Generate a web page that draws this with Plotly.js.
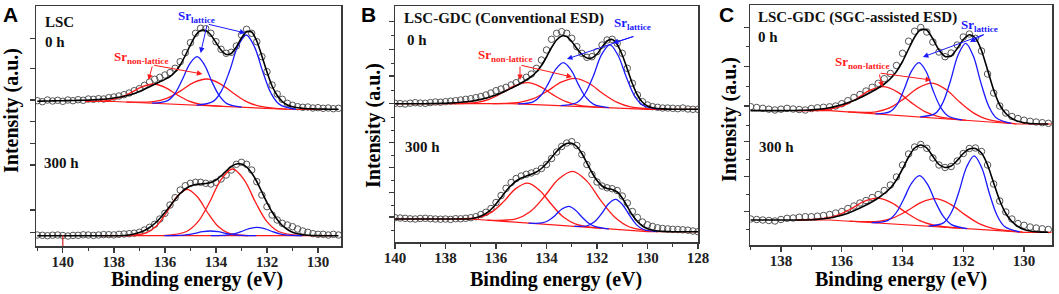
<!DOCTYPE html>
<html><head><meta charset="utf-8">
<script src="https://cdn.plot.ly/plotly-3.0.1.min.js"></script>
<style>html,body{margin:0;padding:0;background:#fff;}#chart{width:1059px;height:294px;}</style>
</head><body><div id="chart"></div>
<script>
// ---------- Binding-energy grids (eV) ----------
const gridA = [141.0,140.8,140.6,140.4,140.2,140.0,139.8,139.6,139.4,139.2,139.0,138.8,138.6,138.4,138.2,138.0,137.8,137.6,137.4,137.2,137.0,136.8,136.6,136.4,136.2,136.0,135.8,135.6,135.4,135.2,135.0,134.8,134.6,134.4,134.2,134.0,133.8,133.6,133.4,133.2,133.0,132.8,132.6,132.4,132.2,132.0,131.8,131.6,131.4,131.2,131.0,130.8,130.6,130.4,130.2,130.0,129.8,129.6,129.4,129.2];
const gridB = [140.0,139.8,139.6,139.4,139.2,139.0,138.8,138.6,138.4,138.2,138.0,137.8,137.6,137.4,137.2,137.0,136.8,136.6,136.4,136.2,136.0,135.8,135.6,135.4,135.2,135.0,134.8,134.6,134.4,134.2,134.0,133.8,133.6,133.4,133.2,133.0,132.8,132.6,132.4,132.2,132.0,131.8,131.6,131.4,131.2,131.0,130.8,130.6,130.4,130.2,130.0,129.8,129.6,129.4,129.2,129.0,128.8,128.6,128.4,128.2,128.0];
const gridC = [139.0,138.8,138.6,138.4,138.2,138.0,137.8,137.6,137.4,137.2,137.0,136.8,136.6,136.4,136.2,136.0,135.8,135.6,135.4,135.2,135.0,134.8,134.6,134.4,134.2,134.0,133.8,133.6,133.4,133.2,133.0,132.8,132.6,132.4,132.2,132.0,131.8,131.6,131.4,131.2,131.0,130.8,130.6,130.4,130.2,130.0,129.8,129.6,129.4,129.2];

// ---------- Panel A : LSC ----------
const A0_data = [145.3,144.3,146,145,145.7,144.7,146,145.3,146.3,145.7,147,146.7,147.3,147,148.3,149,150,151.3,153,155.3,157.3,160.7,164,166.7,168.7,171,173.3,177.7,184.3,193.3,203.3,212.7,217.7,217.3,212.7,204.3,196.7,192.7,193.7,200,211,216.7,212.7,204.3,189.3,174.3,161,152,146.7,142.7,140.7,139.3,138.7,139,138,138.3,137.7,138,137.3,137.7];
const A0_fit = [144.8,144.9,145.0,145.1,145.2,145.3,145.4,145.5,145.6,145.7,145.9,146.1,146.4,146.8,147.3,148.0,148.8,149.8,151.0,152.6,154.5,156.8,159.3,161.8,164.2,166.6,169.5,174.0,181.0,190.5,201.0,210.5,215.5,215.5,211.0,203.5,196.0,191.5,192.5,199.0,208.0,214.5,214.0,205.0,190.0,174.0,160.0,150.5,144.5,141.0,139.2,138.2,137.6,137.3,137.1,137.0,136.9,136.8,136.8,136.7];
const A0_blue1_E = [132.99,133.57,133.86,134.16,134.45,134.74,135.03,135.33,135.62,135.91,136.5];
const A0_blue1_I = [138.9,142.4,150.0,164.4,181.2,189.3,181.9,165.7,152.0,145.1,142.9];
const A0_blue2_E = [130.86,131.51,131.84,132.16,132.49,132.81,133.14,133.46,133.79,134.11,134.76];
const A0_blue2_I = [136.6,141.6,152.7,174.0,199.1,211.0,199.8,175.5,154.9,144.6,140.9];
const A0_red1_E = [133.73,134.63,135.08,135.53,135.98,136.43,136.88,137.33,137.78,138.23,139.13];
const A0_red1_I = [139.7,141.9,145.2,151.3,158.4,162.0,159.4,153.4,148.3,145.7,144.5];
const A0_red2_E = [131.2,132.25,132.78,133.3,133.83,134.35,134.88,135.4,135.93,136.45,137.5];
const A0_red2_I = [136.8,139.6,144.1,152.5,162.2,167.0,163.4,154.9,147.7,144.4,144.0];
const A0_base_E = [139.0,138.0,131.0,129.2];
const A0_base_I = [144.5,144.5,136.5,136.5];

const A300_data = [11,10.7,10.3,10.8,11,10.5,10,10.6,10.7,11.2,11,10.6,11,11.4,11.3,11.1,11.7,12,12.3,12.8,13.7,16,18.7,21.7,27,32.7,41,48.3,56,60.3,62.7,63.7,63.7,62.7,62,63.7,67,71,76,81.7,83.7,81.7,76,64.3,51,39.3,31,26,22.7,21,19.3,17,15,13.7,12.3,11.7,11.7,11,11.7,11];
const A300_fit = [10.3,10.3,10.3,10.3,10.3,10.3,10.3,10.3,10.3,10.3,10.3,10.3,10.3,10.3,10.3,10.3,10.3,10.5,11.0,12.0,13.5,15.5,18.5,22.5,27.5,33.5,40.0,46.5,52.5,57.0,60.0,61.5,62.0,62.5,63.5,66.0,70.0,75.0,79.5,82.0,82.0,79.0,73.0,64.5,54.0,43.5,34.0,26.5,20.5,16.5,13.8,12.2,11.2,10.7,10.5,10.4,10.3,10.3,10.3,10.3];
const A300_red1_E = [132.73,133.53,133.93,134.33,134.73,135.13,135.53,135.93,136.33,136.73,137.53];
const A300_red1_I = [10.4,13.2,20.0,33.5,49.3,56.7,49.3,33.5,20.0,13.2,10.4];
const A300_red2_E = [130.65,131.55,132.0,132.45,132.9,133.35,133.8,134.25,134.7,135.15,136.05];
const A300_red2_I = [10.4,14.5,24.3,43.7,66.4,77.0,66.4,43.7,24.3,14.5,10.4];
const A300_blue1_E = [132.42,133.02,133.32,133.62,133.92,134.22,134.52,134.82,135.12,135.42,136.02];
const A300_blue1_I = [10.3,10.6,11.3,12.7,14.3,15.0,14.3,12.7,11.3,10.6,10.3];
const A300_blue2_E = [130.6,131.2,131.5,131.8,132.1,132.4,132.7,133.0,133.3,133.6,134.2];
const A300_blue2_I = [10.3,10.8,12.1,14.5,17.4,18.7,17.4,14.5,12.1,10.8,10.3];
const A300_base_E = [138.5,129.5];
const A300_base_I = [10.3,10.3];

// ---------- Panel B : LSC-GDC (Conventional ESD) ----------
const B0_data = [138.7,138.4,138,138.8,139.3,138.9,138.7,139.4,140,139.8,140.3,140.8,141.3,142,142.7,143.3,144.3,145.5,147,149,151.3,153,154.7,157,159.3,162,164.7,168,173.7,182,192,202.7,208.7,210.3,208.7,203.7,195.3,188.7,184.7,185.3,190.3,197,202,202.7,198.7,188.7,173.7,158.7,147,140.3,137,135.3,134.7,134,134,133.7,133.3,134,133,132.7,132.7];
const B0_fit = [138.3,138.3,138.3,138.3,138.3,138.3,138.3,138.4,138.5,138.6,138.8,139,139.3,139.7,140.2,140.8,141.6,142.6,143.8,145.3,147,149,151.2,153.6,156.2,159,162,165.5,170,176.5,185,194.5,202,206,205.5,200.5,193.5,187.5,184,184,188,195,201,202.5,197.5,187,173,158.5,147,139.8,136,134.3,133.5,133.1,132.9,132.8,132.7,132.7,132.7,132.7,132.7];
const B0_red1_E = [131.75,132.75,133.25,133.75,134.25,134.75,135.25,135.75,136.25,136.75,137.75];
const B0_red1_I = [134.6,136.9,140.6,147.4,155.4,159.3,156.4,149.2,142.9,139.7,138.3];
const B0_red2_E = [129.57,130.67,131.22,131.77,132.32,132.87,133.42,133.97,134.52,135.07,136.17];
const B0_red2_I = [132.8,135.1,139.9,148.5,158.7,163.7,159.8,150.8,143.3,139.7,138.4];
const B0_blue1_E = [131.53,132.13,132.43,132.73,133.03,133.33,133.63,133.93,134.23,134.53,135.13];
const B0_blue1_I = [134.4,137.6,144.3,157.1,172.1,179.4,172.8,158.4,146.2,140.1,138.1];
const B0_blue2_E = [129.54,130.19,130.52,130.84,131.17,131.49,131.82,132.14,132.47,132.79,133.44];
const B0_blue2_I = [132.8,136.8,146.4,165.0,186.7,197.1,187.4,166.3,148.5,139.5,136.4];
const B0_base_E = [140,135.4,130,128];
const B0_base_I = [138.3,138.3,132.7,132.7];

const B300_data = [24.3,24,23.7,23.2,23,23.5,23.7,23.3,23,22.8,23,22.6,23.3,23.2,23.7,24.3,25.3,27.5,29.7,33.5,39.5,46.5,53.7,59.5,63.5,66,67.7,69,70.7,73.5,77.5,83.5,90,95.5,99,100.3,96.5,87.5,77.5,67.5,60,56,54.2,53.3,51.5,46,39,30.5,24.5,20,17.2,15.5,14.2,13.5,13.1,12.7,12.5,12.2,11.8,11,10.3];
const B300_fit = [23,23,23,23,23,23,23,23,23,23,23,23,23,23,23,23.3,24.3,26,28.5,32.5,38,44.5,51,56.5,61,64,66,67.8,70,73.5,78.5,84.5,90.5,95.5,98.5,98.7,95.5,88.5,79,69.5,61.5,56,53.5,52.5,50,44,35.5,27,20.5,16,13.3,11.8,11,10.6,10.4,10.3,10.3,10.3,10.3,10.3,10.3];
const B300_red1_E = [131.89,132.84,133.32,133.79,134.27,134.74,135.22,135.69,136.17,136.64,137.59];
const B300_red1_I = [13.8,17.95,24.7,37.2,51.6,58.9,53.4,40.6,29.9,24.8,23.1];
const B300_red2_E = [129.59,130.71,131.27,131.84,132.4,132.96,133.52,134.09,134.65,135.21,136.34];
const B300_red2_I = [10.4,15.0,24.2,41.1,60.9,70.7,63.0,45.2,30.3,23.2,21.9];
const B300_blue1_E = [131.53,132.06,132.33,132.59,132.86,133.12,133.39,133.65,133.92,134.18,134.71];
const B300_blue1_I = [13.1,15.3,18.7,24.8,32.1,35.7,33.0,26.8,21.5,19.1,18.9];
const B300_blue2_E = [129.61,130.16,130.44,130.71,130.99,131.26,131.54,131.81,132.09,132.36,132.91];
const B300_blue2_I = [10.4,12.5,17.4,26.6,37.3,42.6,38.3,28.6,20.4,16.5,15.6];
const B300_base_E = [140,137,130,128];
const B300_base_I = [23,23,10.3,10.3];

// ---------- Panel C : LSC-GDC (SGC-assisted ESD) ----------
const C0_data = [138.3,137.5,136.7,135.8,135,135.8,136.7,136,135.5,135,136.5,137.2,137.7,138.2,139,141.3,144.3,147.5,150.5,154,157.7,161.7,166.3,171.5,179.5,191.7,203.8,213.8,217.5,213,203,193,188.3,192,200,208,211,206.7,194,171,152,139,132,128.5,126.5,124.8,123.7,123,122.3,121.7];
const C0_fit = [134.4,134.4,134.4,134.4,134.4,134.4,134.4,134.5,134.6,134.8,135.1,135.6,136.3,137.3,138.6,140.2,142.2,144.6,147.3,150.3,153.5,157,161,166.3,173.5,183.5,196,208,215.5,215,206,195,188.5,189,196.5,205.5,210.3,207,194.5,175,155,140,131.5,126.5,123.7,122.2,121.5,121.2,121,121];
const C0_red1_E = [131.91,132.81,133.26,133.71,134.16,134.61,135.06,135.51,135.96,136.41,137.31];
const C0_red1_I = [124.7,128.3,133.4,142.4,152.9,158.3,154.8,146.3,139.2,136.0,134.4];
const C0_red2_E = [130.25,131.17,131.63,132.1,132.56,133.02,133.48,133.95,134.41,134.87,135.8];
const C0_red2_I = [121.2,125.3,131.4,142.4,155.3,161.8,157.2,146.4,137.3,133.2,133.1];
const C0_blue1_E = [132.04,132.51,132.75,132.99,133.22,133.46,133.7,133.94,134.17,134.41,134.89];
const C0_blue1_I = [125.05,129.3,137.9,154.1,173.2,182.3,174.2,156.2,140.9,133.4,131.2];
const C0_blue2_E = [130.42,130.92,131.17,131.42,131.67,131.92,132.17,132.42,132.67,132.92,133.42];
const C0_blue2_I = [121.6,127.3,139.3,162.1,188.9,201.7,190.0,164.3,142.5,131.6,128.1];
const C0_base_E = [137.5,136.4,130.2,129.1];
const C0_base_I = [134.3,134.3,121,121];

const C300_data = [26,25.5,25,24.5,24,25.5,26.7,27,27.8,28.3,28.3,28.8,29.5,30.5,32,33.5,36.5,39,42,44.5,47.5,50.5,54.5,60,68,80,91,98,100.5,96.7,87,80,77.5,78.5,84,91.5,96.5,97,93.5,80,61,44,33,26,21.5,19.7,18,17,16.2,15.5];
const C300_fit = [25,25,25,25,25,25,25,25,25,25,25.2,25.6,26.2,27,28.2,29.8,31.8,34.3,37,40,43.3,47,51.5,57,65,76,88,97,100,97,88.5,80.5,77.5,79,84.5,91.5,96,96.5,92,80,62,44.5,31.5,23.5,18.5,15.5,14,13.2,12.9,12.7];
const C300_red1_E = [132.1,133.0,133.45,133.9,134.35,134.8,135.25,135.7,136.15,136.6,137.5];
const C300_red1_I = [16.8,20.0,24.6,32.7,42.1,46.9,43.8,36.1,29.75,26.6,25.05];
const C300_red2_E = [130.05,131.0,131.48,131.95,132.43,132.9,133.38,133.85,134.33,134.8,135.75];
const C300_red2_I = [12.9,16.4,21.4,30.4,40.9,46.3,42.7,34.1,26.9,23.7,23.8];
const C300_blue1_E = [131.87,132.39,132.65,132.92,133.18,133.44,133.7,133.97,134.23,134.49,135.02];
const C300_blue1_I = [16.4,20.4,28.3,43.3,60.9,69.3,61.9,45.3,31.3,24.4,22.4];
const C300_blue2_E = [130.14,130.64,130.89,131.14,131.39,131.64,131.89,132.14,132.39,132.64,133.14];
const C300_blue2_I = [13.1,18.5,29.8,51.5,77.0,89.2,78.0,53.5,32.7,22.4,18.9];
const C300_base_E = [137.5,136.4,130,129.1];
const C300_base_I = [25,25,12.7,12.7];

// ---------- Tick values / labels ----------
const xTicksA = [140,138,136,134,132,130];
const xMinorA = [141,139,137,135,133,131];
const xTicksB = [140,138,136,134,132,130,128];
const xMinorB = [139,137,135,133,131,129];
const xTicksC = [138,136,134,132,130];
const xMinorC = [139,137,135,133,131];
const yTicksA = [13.7,36,81,102.7,124.3,146,177.7,207.7];
const yTicksB = [25,49.5,74.5,99.7,138.7,166,192.7,220.3];
const yMinorB = [12,37,62,87,112,125,152,179,207];
const yTicksC = [33.3,68.5,103.3,139,178.3,217.3];
const yMinorC = [16,51,86,120,159,198.3];

const panelTitles = ['LSC','LSC-GDC (Conventional ESD)','LSC-GDC (SGC-assisted ESD)'];
const timeLabels = ['0 h','300 h'];

// ---------- Styles ----------
const SERIF = 'Liberation Serif, Times New Roman, serif';
const RED = '#ff1a1a', BLUE = '#1a1aff', AX = '#3a3a3a';

const traces = [];
function addSpectrum(grid, data, fit, comps, base, xa, ya){
  traces.push({x:grid, y:data, xaxis:xa, yaxis:ya, type:'scatter', mode:'markers',
    marker:{symbol:'circle-open', size:6.5, color:'#555', line:{width:1}}, hoverinfo:'skip'});
  traces.push({x:base[0], y:base[1], xaxis:xa, yaxis:ya, type:'scatter', mode:'lines',
    line:{color:RED, width:1.2}, hoverinfo:'skip'});
  comps.forEach(c => traces.push({x:c[0], y:c[1], xaxis:xa, yaxis:ya, type:'scatter', mode:'lines',
    line:{color:c[2], width:1.3, shape:'spline', smoothing:1}, hoverinfo:'skip'}));
  traces.push({x:grid, y:fit, xaxis:xa, yaxis:ya, type:'scatter', mode:'lines',
    line:{color:'#000', width:1.6, shape:'spline', smoothing:0.6}, hoverinfo:'skip'});
}
addSpectrum(gridA, A0_data, A0_fit, [[A0_red1_E,A0_red1_I,RED],[A0_red2_E,A0_red2_I,RED],[A0_blue1_E,A0_blue1_I,BLUE],[A0_blue2_E,A0_blue2_I,BLUE]], [A0_base_E,A0_base_I], 'x','y');
addSpectrum(gridA, A300_data, A300_fit, [[A300_red1_E,A300_red1_I,RED],[A300_red2_E,A300_red2_I,RED],[A300_blue1_E,A300_blue1_I,BLUE],[A300_blue2_E,A300_blue2_I,BLUE]], [A300_base_E,A300_base_I], 'x','y');
addSpectrum(gridB, B0_data, B0_fit, [[B0_red1_E,B0_red1_I,RED],[B0_red2_E,B0_red2_I,RED],[B0_blue1_E,B0_blue1_I,BLUE],[B0_blue2_E,B0_blue2_I,BLUE]], [B0_base_E,B0_base_I], 'x2','y2');
addSpectrum(gridB, B300_data, B300_fit, [[B300_red1_E,B300_red1_I,RED],[B300_red2_E,B300_red2_I,RED],[B300_blue1_E,B300_blue1_I,BLUE],[B300_blue2_E,B300_blue2_I,BLUE]], [B300_base_E,B300_base_I], 'x2','y2');
addSpectrum(gridC, C0_data, C0_fit, [[C0_red1_E,C0_red1_I,RED],[C0_red2_E,C0_red2_I,RED],[C0_blue1_E,C0_blue1_I,BLUE],[C0_blue2_E,C0_blue2_I,BLUE]], [C0_base_E,C0_base_I], 'x3','y3');
addSpectrum(gridC, C300_data, C300_fit, [[C300_red1_E,C300_red1_I,RED],[C300_red2_E,C300_red2_I,RED],[C300_blue1_E,C300_blue1_I,BLUE],[C300_blue2_E,C300_blue2_I,BLUE]], [C300_base_E,C300_base_I], 'x3','y3');

function xAxis(domain, range, ticks, minor, anchor){
  return {domain, range, anchor, tickmode:'array', tickvals:ticks, ticktext:ticks.map(String),
    ticks:'outside', ticklen:5, tickwidth:1.3, tickcolor:AX, ticklabelstandoff:-4,
    minor:{tickmode:'array', tickvals:minor, ticks:'outside', ticklen:3, tickwidth:1, tickcolor:AX},
    showline:true, mirror:true, linecolor:AX, linewidth:1.5, showgrid:false, zeroline:false,
    tickfont:{family:SERIF, size:15, color:'#222', weight:'bold'}, fixedrange:true};
}
function yAxis(domain, range, ticks, minor, anchor){
  const a = {domain, range, anchor, tickmode:'array', tickvals:ticks, showticklabels:false,
    ticks:'outside', ticklen:5, tickwidth:1.2, tickcolor:AX,
    showline:true, mirror:true, linecolor:AX, linewidth:1.5, showgrid:false, zeroline:false, fixedrange:true};
  if (minor) a.minor = {tickmode:'array', tickvals:minor, ticks:'outside', ticklen:3, tickwidth:1, tickcolor:AX};
  return a;
}

const ann = [];
const tFont = (s, c) => ({family:SERIF, size:s, color:c||'#111', weight:'bold'});
// panel letters
[['A',10],['B',368],['C',726]].forEach(p => ann.push({text:p[0], xref:'paper', yref:'paper', x:p[1]/1059, y:(294-15)/294,
  showarrow:false, xanchor:'center', yanchor:'middle', font:{family:'Liberation Sans, Arial, sans-serif', size:21, color:'#000', weight:'bold'}}));
// axis titles
[197,556,901].forEach(cx => ann.push({text:'Binding energy (eV)', xref:'paper', yref:'paper', x:cx/1059, y:(294-279)/294,
  showarrow:false, xanchor:'center', yanchor:'middle', font:tFont(20,'#000')}));
[[12,111],[373,126],[729,120]].forEach(p => ann.push({text:'Intensity (a.u.)', textangle:-90, xref:'paper', yref:'paper',
  x:p[0]/1059, y:(294-p[1])/294, showarrow:false, xanchor:'center', yanchor:'middle', font:tFont(20,'#000')}));
// in-panel labels
function lab(text, xr, yr, x, y, size){ ann.push({text, xref:xr+' domain', yref:yr+' domain', x, y, showarrow:false,
  xanchor:'left', yanchor:'middle', font:tFont(size)}); }
lab(panelTitles[0],'x','y',0.023,0.933,15); lab(timeLabels[0],'x','y',0.023,0.85,15); lab(timeLabels[1],'x','y',0.02,0.346,15);
lab(panelTitles[1],'x2','y2',0.023,0.949,15); lab(timeLabels[0],'x2','y2',0.033,0.856,15); lab(timeLabels[1],'x2','y2',0.026,0.403,15);
lab(panelTitles[2],'x3','y3',0.02,0.948,15); lab(timeLabels[0],'x3','y3',0.02,0.867,15); lab(timeLabels[1],'x3','y3',0.023,0.408,15);
// Sr labels and arrows
function srLabel(xr, yr, x, y, sub, color){ ann.push({text:'Sr<sub>'+sub+'</sub>', xref:xr, yref:yr, x, y, showarrow:false,
  xanchor:'center', yanchor:'middle', font:tFont(13, color)}); }
function arrow(xr, yr, x, y, ax, ay, color){ ann.push({text:'', xref:xr, yref:yr, axref:xr, ayref:yr, x, y, ax, ay,
  showarrow:true, arrowhead:2, arrowsize:1.1, arrowwidth:1, arrowcolor:color, standoff:0, startstandoff:0}); }
srLabel('x','y',136.95,189,'non-lattice',RED); arrow('x','y',136.64,166,136.48,181,RED); arrow('x','y',134.53,172,136.48,181,RED);
srLabel('x','y',134.77,230,'lattice',BLUE); arrow('x','y',134.6,193,134.34,222,BLUE); arrow('x','y',132.85,213,134.34,222,BLUE);
srLabel('x2','y2',135.64,187,'non-lattice',RED); arrow('x2','y2',135.05,162,135.05,177,RED); arrow('x2','y2',132.99,165,135.05,177,RED);
srLabel('x2','y2',130.61,219,'lattice',BLUE); arrow('x2','y2',133.19,183,130.5,206,BLUE); arrow('x2','y2',131.37,199,130.5,206,BLUE);
srLabel('x3','y3',135.33,183,'non-lattice',RED); arrow('x3','y3',134.67,158,134.77,172,RED); arrow('x3','y3',133.06,165,134.77,172,RED);
srLabel('x3','y3',131.48,220,'lattice',BLUE); arrow('x3','y3',133.33,188,131.28,211,BLUE); arrow('x3','y3',131.78,203,131.28,211,BLUE);

const layout = {
  width:1059, height:294, margin:{l:0,r:0,t:0,b:0}, paper_bgcolor:'#fff', plot_bgcolor:'#fff', showlegend:false,
  xaxis: xAxis([36/1059, 341/1059], [141.05,129.1], xTicksA, xMinorA, 'y'),
  yaxis: yAxis([48/294, 288/294], [0,240], yTicksA, null, 'x'),
  xaxis2: xAxis([395/1059, 698/1059], [140,128], xTicksB, xMinorB, 'y2'),
  yaxis2: yAxis([52/294, 288/294], [0,236], yTicksB, yMinorB, 'x2'),
  xaxis3: xAxis([750/1059, 1052/1059], [139.02,129.08], xTicksC, xMinorC, 'y3'),
  yaxis3: yAxis([49/294, 289/294], [0,240], yTicksC, yMinorC, 'x3'),
  annotations: ann,
  shapes:[{type:'line', xref:'x', yref:'y', x0:140, x1:140, y0:0, y1:11, line:{color:'#d42020', width:1.2}}]
};
Plotly.newPlot('chart', traces, layout, {displayModeBar:false, staticPlot:true});
</script></body></html>
